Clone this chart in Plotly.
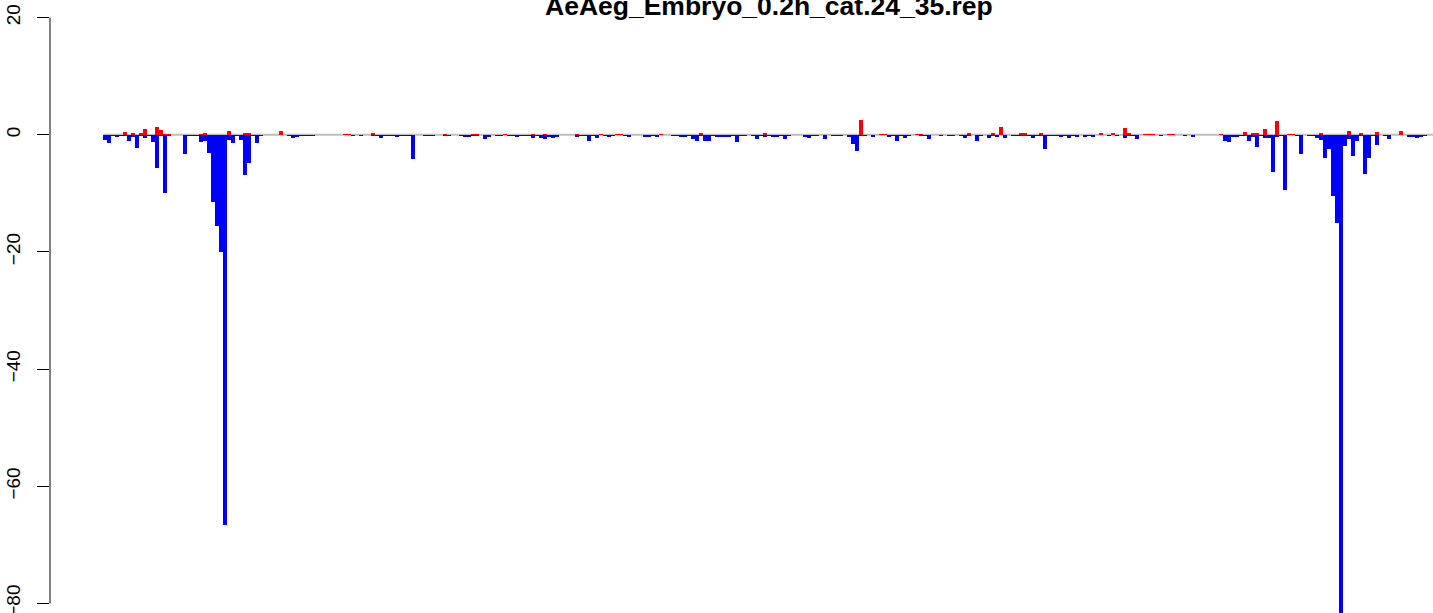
import plotly.graph_objects as go

title_text = "AeAeg_Embryo_0.2h_cat.24_35.rep"

# antisense (negative, blue) values per position
antisense = [
    -0.9, -1.4, -0.3, -0.4, -0.3, -0.3, -1.1, -0.4, -2.2, -0.3,
    -0.6, -0.3, -1.3, -5.7, -0.3, -10.0, -0.3, 0, 0, 0,
    -3.3, -0.3, -0.3, -0.3, -1.2, -1.1, -3.1, -11.4, -15.6, -20.0,
    -66.6, -0.9, -1.4, -0.3, -0.9, -6.9, -4.8, -0.3, -1.4, -0.3,
    0, 0, 0, 0, 0, 0, -0.3, -0.5, -0.4, -0.3,
    -0.3, -0.3, -0.3, 0, 0, 0, 0, 0, 0, 0,
    0, 0, -0.3, 0, -0.3, 0, 0, -0.3, -0.3, -0.6,
    -0.3, -0.3, -0.3, -0.4, -0.3, -0.3, -0.3, -4.2, 0, 0,
    -0.3, -0.3, -0.3, 0, 0, -0.3, -0.3, 0, 0, -0.3,
    -0.4, -0.4, -0.3, -0.3, 0, -0.8, -0.4, 0, -0.3, -0.3,
    0, -0.3, -0.3, -0.4, -0.3, -0.3, -0.3, -0.5, -0.3, -0.5,
    -0.7, -0.4, -0.6, -0.4, 0, 0, 0, 0, -0.4, -0.3,
    -0.3, -1.1, -0.3, -0.5, 0, -0.3, -0.4, -0.3, 0, 0,
    -0.3, -0.4, 0, 0, 0, -0.4, -0.4, -0.3, -0.4, 0,
    0, 0, -0.3, -0.3, -0.4, -0.4, -0.3, -0.8, -1.0, -0.3,
    -1.1, -1.1, -0.3, -0.4, -0.4, -0.4, -0.4, -0.3, -1.25, -0.3,
    -0.3, 0, -0.3, -0.8, -0.3, -0.45, -0.3, -0.4, -0.4, -0.3,
    -0.8, -0.3, 0, 0, 0, -0.4, -0.5, -0.3, -0.3, 0,
    -0.8, 0, -0.3, -0.3, -0.3, 0, -0.4, -1.6, -2.7, -0.3,
    -0.3, 0, -0.4, 0, 0, 0, -0.4, -0.3, -1.0, -0.3,
    -0.5, -0.3, 0, 0, -0.3, -0.3, -0.8, 0, 0, -0.3,
    0, -0.3, -0.3, 0, -0.3, -0.5, -0.3, 0, -1.0, -0.3,
    0, -0.5, -0.3, -0.4, 0, -0.5, 0, -0.3, -0.3, -0.3,
    -0.3, -0.3, -0.5, -0.3, -0.3, -2.4, -0.3, -0.3, -0.3, -0.4,
    -0.3, -0.5, -0.3, -0.4, 0, -0.4, -0.3, -0.4, 0, 0,
    0, -0.3, 0, -0.3, 0, -0.5, -0.3, -0.3, -0.7, 0,
    0, 0, 0, 0, -0.3, 0, 0, 0, 0, 0,
    -0.3, 0, -0.4, 0, 0, 0, 0, 0, 0, 0,
    -1.1, -1.25, -0.4, -0.4, -0.3, -0.3, -1.1, -0.4, -2.1, -0.3,
    -0.6, -0.6, -6.4, -0.4, -0.3, -9.5, 0, 0, -0.3, -3.3,
    0, -0.3, -0.3, -0.55, -0.9, -4.0, -2.5, -10.5, -15.1, -84.0,
    -1.9, -0.7, -3.6, -1.0, -0.3, -6.7, -4.0, -0.3, -1.75, 0,
    -0.3, -0.75, 0, 0, 0, 0, -0.4, -0.4, -0.55, -0.4, -0.3,
]

# sense (positive, red) values per position
sense = [
    0, 0, 0, 0, 0, 0.4, 0, 0.3, 0, 0.3,
    0.9, 0, 0, 1.4, 0.75, 0.15, 0.15, 0, 0, 0,
    0, 0, 0, 0, 0.15, 0.3, 0, 0, 0, 0,
    0, 0.55, 0, 0, 0, 0.25, 0.25, 0, 0, 0,
    0, 0, 0, 0, 0.55, 0, 0, 0, 0, 0,
    0, 0, 0, 0, 0, 0, 0, 0, 0, 0,
    0.15, 0.15, 0, 0, 0, 0, 0, 0.3, 0, 0,
    0, 0, 0, 0, 0, 0, 0, 0, 0, 0,
    0, 0, 0, 0, 0, 0.15, 0, 0, 0, 0,
    0, 0, 0.15, 0.15, 0, 0, 0, 0, 0, 0,
    0.15, 0, 0, 0, 0, 0, 0, 0.15, 0, 0,
    0.15, 0, 0, 0, 0, 0, 0, 0, 0.15, 0,
    0, 0, 0, 0, 0.15, 0, 0, 0, 0.15, 0.15,
    0, 0, 0, 0, 0, 0, 0, 0, 0, 0.15,
    0, 0, 0, 0, 0, 0, 0, 0, 0, 0.3,
    0, 0, 0, 0, 0, 0, 0, 0, 0, 0,
    0, 0, 0, 0, 0, 0.3, 0, 0, 0, 0,
    0, 0, 0, 0, 0, 0, 0, 0, 0, 0,
    0, 0, 0, 0, 0, 0, 0, 0, 0, 2.45,
    0, 0, 0, 0, 0.15, 0.15, 0, 0, 0, 0,
    0, 0, 0, 0.15, 0.15, 0, 0, 0, 0, 0,
    0, 0, 0, 0, 0, 0, 0.3, 0, 0, 0,
    0, 0, 0.3, 0, 1.25, 0, 0, 0, 0, 0.3,
    0.3, 0, 0, 0, 0.3, 0, 0, 0, 0, 0,
    0, 0, 0, 0, 0, 0, 0, 0, 0, 0.3,
    0, 0, 0.3, 0, 0, 1.1, 0.3, 0, 0, 0,
    0.15, 0.15, 0.15, 0, 0, 0, 0.15, 0.15, 0, 0,
    0, 0, 0, 0, 0, 0, 0, 0, 0, 0.15,
    0, 0, 0, 0, 0, 0.4, 0, 0.25, 0.25, 0,
    0.9, 0, 0, 2.3, 0, 0, 0.15, 0.15, 0, 0,
    0, 0, 0, 0, 0.25, 0, 0, 0, 0, 0,
    0, 0.55, 0, 0, 0.25, 0, 0, 0, 0.4, 0,
    0, 0, 0, 0, 0.55, 0, 0, 0, 0, 0, 0,
]

y_ticks = [-80, -60, -40, -20, 0, 20]
y_ticklabels = ["\u221280", "\u221260", "\u221240", "\u221220", "0", "20"]

positions = list(range(len(sense)))

W, H = 1433, 613
ML = 50
px_per_bar = 4.0
first_bar_left = 103.3
x_min = -0.5 - (first_bar_left - ML) / px_per_bar
x_max = x_min + (W - ML) / px_per_bar
px_per_unit = 5.86
y20_px = 17.5
y_max = 20 + y20_px / px_per_unit
y_min = y_max - H / px_per_unit

fig = go.Figure()
fig.add_trace(go.Bar(x=positions, y=sense, marker=dict(color="#FF0000", line=dict(width=0)),
                     width=1.0, showlegend=False, hoverinfo="skip"))
fig.add_trace(go.Bar(x=positions, y=antisense, marker=dict(color="#0000FF", line=dict(width=0)),
                     width=1.0, showlegend=False, hoverinfo="skip"))

# gray zero line
fig.add_shape(type="line", xref="x", yref="y", x0=-0.5, x1=x_max, y0=0, y1=0,
              line=dict(color="#BEBEBE", width=2), layer="below")
# y axis line from -80 to 20
fig.add_shape(type="line", xref="paper", yref="y", x0=0, x1=0, y0=y_ticks[0], y1=y_ticks[-1],
              line=dict(color="black", width=1))

fig.add_annotation(text="<b>" + title_text + "</b>", xref="paper", yref="paper",
                   x=(768.5 - ML) / (W - ML), y=1, xanchor="center", yanchor="top", yshift=11,
                   showarrow=False, font=dict(family="Liberation Sans, Arial, sans-serif", size=26.5, color="black"))

fig.update_layout(
    width=W, height=H,
    margin=dict(l=ML, r=0, t=0, b=0, pad=0),
    paper_bgcolor="white", plot_bgcolor="white",
    barmode="overlay", bargap=0,
    hovermode=False,
    font=dict(family="Liberation Sans, Arial, sans-serif", color="black"),
    xaxis=dict(range=[x_min, x_max], visible=False, fixedrange=True),
    yaxis=dict(range=[y_min, y_max], tickmode="array", tickvals=y_ticks, ticktext=y_ticklabels,
               ticks="outside", ticklen=12, tickwidth=1, tickcolor="black",
               tickangle=-90, tickfont=dict(size=19, color="black"), ticklabelstandoff=9,
               ticklabeloverflow="allow", fixedrange=True,
               showgrid=False, zeroline=False, showline=False, automargin=False),
)

fig.write_html("out.html", config={"displayModeBar": False, "staticPlot": True},
               post_script="document.body.style.margin='0';document.body.style.overflow='hidden';")
